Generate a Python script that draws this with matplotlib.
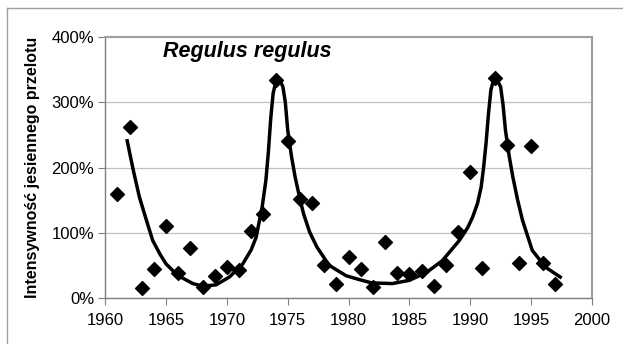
import matplotlib
matplotlib.use("Agg")
from matplotlib import pyplot as plt
from matplotlib.lines import Line2D

plt.rcParams['font.family'] = ['Liberation Sans', 'DejaVu Sans']

# observed values (% of mean)
years = [1961, 1962, 1963, 1964, 1965, 1966, 1967, 1968, 1969, 1970,
         1971, 1972, 1973, 1974, 1975, 1976, 1977, 1978, 1979, 1980,
         1981, 1982, 1983, 1984, 1985, 1986, 1987, 1988, 1989, 1990,
         1991, 1992, 1993, 1994, 1995, 1996, 1997]
values = [159, 262, 15, 45, 110, 38, 77, 16, 34, 47,
          43, 102, 128, 334, 241, 151, 146, 51, 22, 63,
          45, 17, 86, 38, 37, 41, 18, 50, 101, 193,
          46, 338, 234, 53, 233, 53, 22]

# fitted curve
fit_x = [1961.8, 1962.3, 1962.8, 1963.4, 1963.9, 1964.5, 1965.0, 1965.6, 1966.1,
         1967.2, 1968.0, 1969.1, 1970.2, 1971.3, 1972.0, 1972.4, 1972.9, 1973.2,
         1973.4, 1973.6, 1973.8, 1974.0, 1974.2, 1974.4, 1974.6, 1974.8, 1975.0,
         1975.3, 1975.6, 1976.0, 1976.3, 1976.8, 1977.4, 1978.4, 1979.8, 1980.9,
         1981.9, 1983.6, 1985.0, 1986.4, 1987.7, 1989.1, 1989.8, 1990.2, 1990.6,
         1990.9, 1991.1, 1991.3, 1991.5, 1991.7, 1991.9, 1992.1, 1992.3, 1992.5,
         1992.7, 1992.9, 1993.2, 1993.5, 1993.9, 1994.3, 1995.1, 1996.2, 1997.4]
fit_y = [241, 196, 155, 118, 88, 67, 52, 41, 33,
         22, 18, 20, 32, 52, 74, 93, 140, 180,
         222, 275, 314, 330, 334, 332, 324, 300, 257,
         218, 186, 152, 129, 101, 78, 50, 34, 28,
         23, 22, 27, 39, 57, 88, 108, 124, 145,
         170, 200, 237, 282, 319, 333, 334, 331, 324,
         296, 257, 218, 186, 150, 119, 73, 47, 32]

fig = plt.figure(figsize=(6.23, 3.44), dpi=100)
ax = fig.add_axes([0.169, 0.134, 0.781, 0.758])

ax.plot(fit_x, fit_y, color='black', lw=2.5, zorder=3)
ax.scatter(years, values, marker='D', s=50, color='black', zorder=4)

ax.set_xlim(1960, 2000)
ax.set_ylim(0, 400)
ax.set_xticks(range(1960, 2001, 5))
ax.set_yticks(range(0, 401, 100))
ax.set_yticklabels([f"{v}%" for v in range(0, 401, 100)])
ax.grid(axis='y', color='#c0c0c0', lw=0.9)
ax.set_axisbelow(True)

for side in ['top', 'right']:
    ax.spines[side].set_color('#a0a0a0')
    ax.spines[side].set_linewidth(1.5)
for side in ['left', 'bottom']:
    ax.spines[side].set_color('#808080')
    ax.spines[side].set_linewidth(1.0)

ax.tick_params(axis='both', labelsize=12, color='#808080', length=5, direction='out')
ax.tick_params(axis='x', pad=6)
ax.tick_params(axis='y', pad=3)

ax.set_ylabel("Intensywność jesiennego przelotu", fontsize=11.5, fontweight='bold', labelpad=8)
ax.text(1971.7, 378, "Regulus regulus", fontsize=15.5, fontweight='bold', fontstyle='italic',
        ha='center', va='center')

# outer frame (top and left edges only visible)
fig.add_artist(Line2D([7 / 623, 1], [1 - 8 / 344, 1 - 8 / 344], color='#a0a0a0', lw=1.0,
                      transform=fig.transFigure))
fig.add_artist(Line2D([7 / 623, 7 / 623], [0, 1 - 8 / 344], color='#a0a0a0', lw=1.0,
                      transform=fig.transFigure))

fig.savefig("out.png", dpi=100)
